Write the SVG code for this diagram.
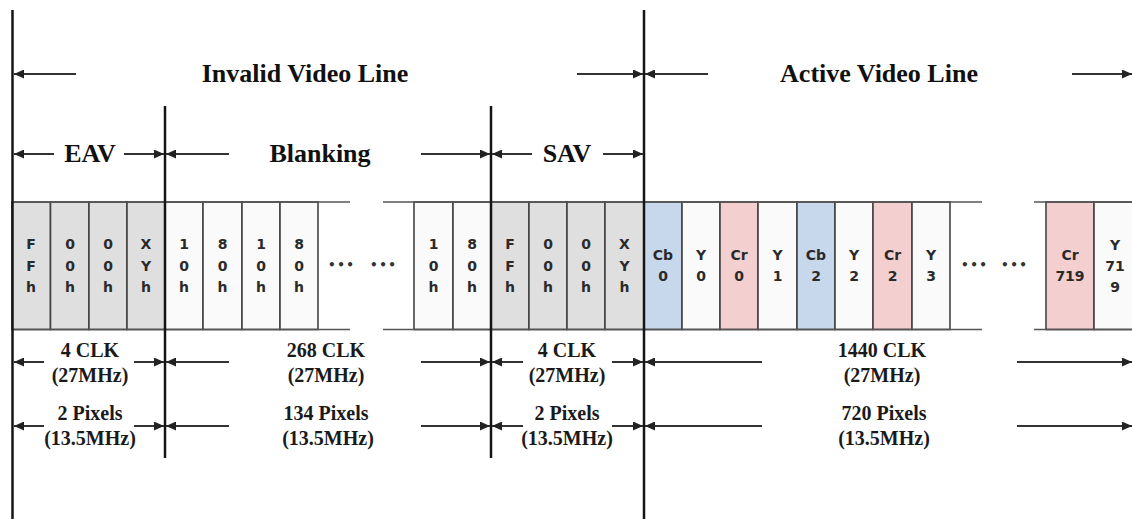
<svg xmlns="http://www.w3.org/2000/svg" width="1132" height="519" viewBox="0 0 1132 519">
<defs>
<marker id="ah" markerUnits="userSpaceOnUse" markerWidth="10" markerHeight="9" refX="10" refY="4.5" orient="auto">
<path d="M0,0 L10,4.5 L0,9 z" fill="#222"/>
</marker>
</defs>
<style>
.bg{fill:#ffffff}
.main{stroke:#151515;stroke-width:2.5;fill:none}
.rail{stroke:#555;stroke-width:1.6;fill:none}
.cell{stroke:#444;stroke-width:1.6}
.gray{fill:#dfdfdf}
.white{fill:#fafafa}
.blue{fill:#c8d8ec}
.pink{fill:#f4cfcf}
.arr{stroke:#333;stroke-width:2;fill:none;marker-end:url(#ah)}
.ct{font-family:"DejaVu Sans",Verdana,sans-serif;font-weight:bold;font-size:14px;fill:#2a2a2a;text-anchor:middle}
.big{font-family:"Liberation Serif","Times New Roman",serif;font-weight:bold;font-size:26px;fill:#111;text-anchor:middle}
.sm{font-family:"Liberation Serif","Times New Roman",serif;font-weight:bold;font-size:20px;fill:#1a1a1a;text-anchor:middle}
.dots{font-family:"DejaVu Sans",sans-serif;font-weight:bold;font-size:12px;fill:#333;letter-spacing:1.5px}
</style>
<rect class="bg" x="0" y="0" width="1132" height="519"/>

<g id="cells">
<g id="eav-cells">
<rect class="cell gray" x="12" y="202" width="38.5" height="127.5"/>
<rect class="cell gray" x="50.5" y="202" width="38.5" height="127.5"/>
<rect class="cell gray" x="89" y="202" width="38" height="127.5"/>
<rect class="cell gray" x="127" y="202" width="38" height="127.5"/>
<text class="ct" x="31" y="249">F</text><text class="ct" x="31" y="271">F</text><text class="ct" x="31" y="292">h</text>
<text class="ct" x="70" y="249">0</text><text class="ct" x="70" y="271">0</text><text class="ct" x="70" y="292">h</text>
<text class="ct" x="108" y="249">0</text><text class="ct" x="108" y="271">0</text><text class="ct" x="108" y="292">h</text>
<text class="ct" x="146" y="249">X</text><text class="ct" x="146" y="271">Y</text><text class="ct" x="146" y="292">h</text>
</g>
<g id="blank-cells">
<rect class="cell white" x="165" y="202" width="38" height="127.5"/>
<rect class="cell white" x="203" y="202" width="39" height="127.5"/>
<rect class="cell white" x="242" y="202" width="38" height="127.5"/>
<rect class="cell white" x="280" y="202" width="38" height="127.5"/>
<rect class="cell white" x="414" y="202" width="39" height="127.5"/>
<rect class="cell white" x="453" y="202" width="38" height="127.5"/>
<text class="ct" x="184" y="249">1</text><text class="ct" x="184" y="271">0</text><text class="ct" x="184" y="292">h</text>
<text class="ct" x="222.5" y="249">8</text><text class="ct" x="222.5" y="271">0</text><text class="ct" x="222.5" y="292">h</text>
<text class="ct" x="261" y="249">1</text><text class="ct" x="261" y="271">0</text><text class="ct" x="261" y="292">h</text>
<text class="ct" x="299" y="249">8</text><text class="ct" x="299" y="271">0</text><text class="ct" x="299" y="292">h</text>
<text class="ct" x="433.5" y="249">1</text><text class="ct" x="433.5" y="271">0</text><text class="ct" x="433.5" y="292">h</text>
<text class="ct" x="472" y="249">8</text><text class="ct" x="472" y="271">0</text><text class="ct" x="472" y="292">h</text>
<text class="dots" x="328" y="269">•••</text>
<text class="dots" x="370" y="269">•••</text>
</g>
<g id="sav-cells">
<rect class="cell gray" x="491" y="202" width="38" height="127.5"/>
<rect class="cell gray" x="529" y="202" width="38" height="127.5"/>
<rect class="cell gray" x="567" y="202" width="38" height="127.5"/>
<rect class="cell gray" x="605" y="202" width="39" height="127.5"/>
<text class="ct" x="510" y="249">F</text><text class="ct" x="510" y="271">F</text><text class="ct" x="510" y="292">h</text>
<text class="ct" x="548" y="249">0</text><text class="ct" x="548" y="271">0</text><text class="ct" x="548" y="292">h</text>
<text class="ct" x="586" y="249">0</text><text class="ct" x="586" y="271">0</text><text class="ct" x="586" y="292">h</text>
<text class="ct" x="624.5" y="249">X</text><text class="ct" x="624.5" y="271">Y</text><text class="ct" x="624.5" y="292">h</text>
</g>
<g id="active-cells">
<rect class="cell blue" x="644" y="202" width="38" height="127.5"/>
<rect class="cell white" x="682" y="202" width="38" height="127.5"/>
<rect class="cell pink" x="720" y="202" width="38" height="127.5"/>
<rect class="cell white" x="758" y="202" width="39" height="127.5"/>
<rect class="cell blue" x="797" y="202" width="38" height="127.5"/>
<rect class="cell white" x="835" y="202" width="38" height="127.5"/>
<rect class="cell pink" x="873" y="202" width="39" height="127.5"/>
<rect class="cell white" x="912" y="202" width="38" height="127.5"/>
<rect class="cell pink" x="1046" y="202" width="48" height="127.5"/>
<rect class="cell white" x="1094" y="202" width="50" height="127.5"/>
<text class="ct" x="663" y="260">Cb</text><text class="ct" x="663" y="281">0</text>
<text class="ct" x="701" y="260">Y</text><text class="ct" x="701" y="281">0</text>
<text class="ct" x="739" y="260">Cr</text><text class="ct" x="739" y="281">0</text>
<text class="ct" x="777.5" y="260">Y</text><text class="ct" x="777.5" y="281">1</text>
<text class="ct" x="816" y="260">Cb</text><text class="ct" x="816" y="281">2</text>
<text class="ct" x="854" y="260">Y</text><text class="ct" x="854" y="281">2</text>
<text class="ct" x="892.5" y="260">Cr</text><text class="ct" x="892.5" y="281">2</text>
<text class="ct" x="931" y="260">Y</text><text class="ct" x="931" y="281">3</text>
<text class="ct" x="1070" y="260">Cr</text><text class="ct" x="1070" y="281">719</text>
<text class="ct" x="1115" y="250">Y</text><text class="ct" x="1115" y="271">71</text><text class="ct" x="1115" y="292">9</text>
<text class="dots" x="961" y="269">•••</text>
<text class="dots" x="1001" y="269">•••</text>
</g>
</g>

<g id="connectors">
<g id="rails">
<line class="rail" x1="12" y1="202" x2="350" y2="202"/>
<line class="rail" x1="12" y1="329.5" x2="350" y2="329.5"/>
<line class="rail" x1="383" y1="202" x2="982" y2="202"/>
<line class="rail" x1="383" y1="329.5" x2="982" y2="329.5"/>
<line class="rail" x1="1034" y1="202" x2="1132" y2="202"/>
<line class="rail" x1="1034" y1="329.5" x2="1132" y2="329.5"/>
</g>
<g id="dividers">
<line class="main" x1="12.5" y1="10" x2="12.5" y2="519"/>
<line class="main" x1="165" y1="106" x2="165" y2="458"/>
<line class="main" x1="491" y1="106" x2="491" y2="458"/>
<line class="main" x1="644" y1="10" x2="644" y2="519"/>
</g>
<g id="arrows-row1">
<line class="arr" x1="76" y1="74" x2="14" y2="74"/>
<line class="arr" x1="577" y1="74" x2="643" y2="74"/>
<line class="arr" x1="708" y1="74" x2="645" y2="74"/>
<line class="arr" x1="1072" y1="74" x2="1132" y2="74"/>
</g>
<g id="arrows-row2">
<line class="arr" x1="54" y1="154" x2="14" y2="154"/>
<line class="arr" x1="124" y1="154" x2="164" y2="154"/>
<line class="arr" x1="229" y1="154" x2="166" y2="154"/>
<line class="arr" x1="421" y1="154" x2="490" y2="154"/>
<line class="arr" x1="532" y1="154" x2="492" y2="154"/>
<line class="arr" x1="603" y1="154" x2="643" y2="154"/>
</g>
<g id="arrows-clk">
<line class="arr" x1="44" y1="362" x2="14" y2="362"/>
<line class="arr" x1="134" y1="362" x2="164" y2="362"/>
<line class="arr" x1="229" y1="362" x2="166" y2="362"/>
<line class="arr" x1="421" y1="362" x2="490" y2="362"/>
<line class="arr" x1="523" y1="362" x2="492" y2="362"/>
<line class="arr" x1="612" y1="362" x2="643" y2="362"/>
<line class="arr" x1="762" y1="362" x2="645" y2="362"/>
<line class="arr" x1="1017" y1="362" x2="1132" y2="362"/>
</g>
<g id="arrows-pix">
<line class="arr" x1="44" y1="426" x2="14" y2="426"/>
<line class="arr" x1="134" y1="426" x2="164" y2="426"/>
<line class="arr" x1="229" y1="426" x2="166" y2="426"/>
<line class="arr" x1="421" y1="426" x2="490" y2="426"/>
<line class="arr" x1="523" y1="426" x2="492" y2="426"/>
<line class="arr" x1="612" y1="426" x2="643" y2="426"/>
<line class="arr" x1="762" y1="426" x2="645" y2="426"/>
<line class="arr" x1="1017" y1="426" x2="1132" y2="426"/>
</g>
</g>

<g id="labels">
<g id="lbl-invalid"><text class="big" x="305" y="82">Invalid Video Line</text></g>
<g id="lbl-active"><text class="big" x="879" y="82">Active Video Line</text></g>
<g id="lbl-eav"><text class="big" x="90" y="162">EAV</text></g>
<g id="lbl-blanking"><text class="big" x="320" y="162">Blanking</text></g>
<g id="lbl-sav"><text class="big" x="567" y="162">SAV</text></g>
<g id="lbl-eav-clk"><text class="sm" x="90" y="357">4 CLK</text><text class="sm" x="90" y="382">(27MHz)</text></g>
<g id="lbl-eav-pix"><text class="sm" x="90" y="420">2 Pixels</text><text class="sm" x="90" y="445">(13.5MHz)</text></g>
<g id="lbl-blank-clk"><text class="sm" x="326" y="357">268 CLK</text><text class="sm" x="326" y="382">(27MHz)</text></g>
<g id="lbl-blank-pix"><text class="sm" x="326" y="420">134 Pixels</text><text class="sm" x="328" y="445">(13.5MHz)</text></g>
<g id="lbl-sav-clk"><text class="sm" x="567" y="357">4 CLK</text><text class="sm" x="567" y="382">(27MHz)</text></g>
<g id="lbl-sav-pix"><text class="sm" x="567" y="420">2 Pixels</text><text class="sm" x="567" y="445">(13.5MHz)</text></g>
<g id="lbl-active-clk"><text class="sm" x="882" y="357">1440 CLK</text><text class="sm" x="882" y="382">(27MHz)</text></g>
<g id="lbl-active-pix"><text class="sm" x="884" y="420">720 Pixels</text><text class="sm" x="884" y="445">(13.5MHz)</text></g>
</g>
</svg>
